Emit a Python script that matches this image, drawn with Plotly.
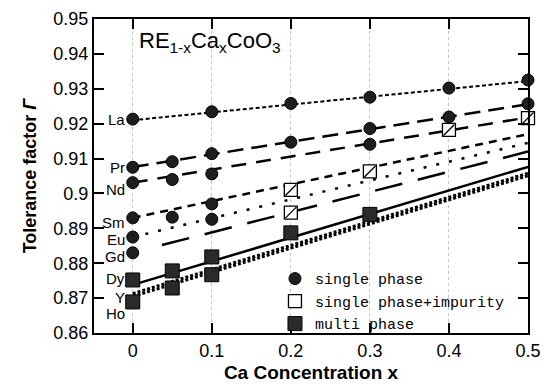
import plotly.graph_objects as go

# ---------------- data ----------------
x_ticks = [0, 0.1, 0.2, 0.3, 0.4, 0.5]
y_ticks = [0.86, 0.87, 0.88, 0.89, 0.90, 0.91, 0.92, 0.93, 0.94, 0.95]

# calculated tolerance-factor lines
fit_x = [0, 0.5]
la_fit = [0.9210, 0.9322]
pr_fit = [0.9076, 0.9256]
nd_fit = [0.9031, 0.9218]
sm_fit = [0.8930, 0.9170]
eu_fit = [0.8875, 0.9145]
gd_fit_x = [0.037, 0.5]
gd_fit = [0.8852, 0.9120]
dy_fit = [0.8738, 0.9076]
y_fit = [0.8713, 0.9058]
ho_fit = [0.8705, 0.9051]

# single phase points
la_x = [0, 0.1, 0.2, 0.3, 0.4, 0.5]
la_single = [0.9213, 0.9234, 0.9258, 0.9276, 0.9302, 0.9325]
pr_x = [0, 0.05, 0.1, 0.2, 0.3, 0.4, 0.5]
pr_single = [0.9075, 0.9091, 0.9114, 0.9147, 0.9186, 0.9219, 0.9257]
nd_x = [0, 0.05, 0.1, 0.3]
nd_single = [0.9031, 0.9040, 0.9056, 0.9141]
sm_x = [0, 0.05, 0.1]
sm_single = [0.8930, 0.8932, 0.8970]
eu_x = [0, 0.1]
eu_single = [0.8875, 0.8926]
gd_x = [0]
gd_single = [0.8830]

# single phase + impurity points
nd_imp_x = [0.4, 0.5]
nd_imp = [0.9182, 0.9216]
sm_imp_x = [0.2, 0.3]
sm_imp = [0.9010, 0.9063]
gd_imp_x = [0.2]
gd_imp = [0.8945]

# multi phase points
dy_x = [0, 0.05, 0.1, 0.2, 0.3]
dy_multi = [0.8752, 0.8778, 0.8818, 0.8887, 0.8940]
yho_x = [0, 0.05, 0.1]
yho_multi = [0.8689, 0.8729, 0.8767]

# element labels at x = 0
re_names = ["La", "Pr", "Nd", "Sm", "Eu", "Gd", "Dy", "Y", "Ho"]
re_label_y = [0.9213, 0.9073, 0.9010, 0.8918, 0.8867, 0.8818, 0.8755, 0.8703, 0.8655]

legend_names = ["single phase", "single phase+impurity", "multi phase"]

# ---------------- figure ----------------
fig = go.Figure()

line_specs = [
    (fit_x, la_fit, "4px,2.5px", 2),
    (fit_x, pr_fit, "16px,8px", 2.5),
    (fit_x, nd_fit, "15px,10px", 2.5),
    (fit_x, sm_fit, "8px,6px", 2.5),
    (fit_x, eu_fit, "3px,10px", 2.5),
    (gd_fit_x, gd_fit, "28px,16px", 2.5),
    (fit_x, dy_fit, "solid", 2.5),
    (fit_x, y_fit, "3px,2px", 3),
    (fit_x, ho_fit, "3px,2px", 3),
]
for xs, ys, dash, w in line_specs:
    fig.add_trace(go.Scatter(x=xs, y=ys, mode="lines",
                             line=dict(color="black", width=w, dash=dash),
                             showlegend=False, hoverinfo="skip"))

single_x = la_x + pr_x + nd_x + sm_x + eu_x + gd_x
single_y = la_single + pr_single + nd_single + sm_single + eu_single + gd_single
imp_x = nd_imp_x + sm_imp_x + gd_imp_x
imp_y = nd_imp + sm_imp + gd_imp
multi_x = dy_x + yho_x
multi_y = dy_multi + yho_multi

fig.add_trace(go.Scatter(x=single_x, y=single_y, mode="markers", name=legend_names[0],
                         marker=dict(symbol="circle", size=12, color="#1e1e1e",
                                     line=dict(color="black", width=1)),
                         cliponaxis=False))
fig.add_trace(go.Scatter(x=imp_x, y=imp_y, mode="markers", name=legend_names[1],
                         marker=dict(symbol="square", size=13, color="white",
                                     line=dict(color="black", width=1.3)),
                         cliponaxis=False))
fig.add_trace(go.Scatter(x=imp_x, y=imp_y, mode="markers", showlegend=False,
                         marker=dict(symbol="line-ne", size=11, color="black",
                                     line=dict(color="black", width=1.3)),
                         cliponaxis=False, hoverinfo="skip"))
fig.add_trace(go.Scatter(x=multi_x, y=multi_y, mode="markers", name=legend_names[2],
                         marker=dict(symbol="square", size=14, color="#2a2a2a",
                                     line=dict(color="black", width=1)),
                         cliponaxis=False))

for name, yv in zip(re_names, re_label_y):
    fig.add_annotation(x=0, y=yv, xref="x", yref="y", text=name, showarrow=False,
                       xanchor="right", xshift=-6,
                       font=dict(family="Liberation Sans", size=15, color="black"))

fig.add_annotation(x=0.099, y=0.927, xref="paper", yref="paper",
                   text="RE<sub>1-x</sub>Ca<sub>x</sub>CoO<sub>3</sub>",
                   showarrow=False, xanchor="left", yanchor="middle",
                   font=dict(family="Liberation Sans", size=22, color="black"))

axis_font = dict(family="Liberation Sans", size=18, color="black")
fig.update_xaxes(range=[-0.049, 0.5], tickvals=x_ticks, ticktext=[str(v) for v in x_ticks],
                 ticks="inside", ticklen=10, tickwidth=1.5, tickcolor="black",
                 showline=True, linewidth=2, linecolor="black", mirror="ticks",
                 showgrid=True, gridcolor="#c4c4c4", griddash="dot", gridwidth=1,
                 zeroline=False, tickfont=axis_font,
                 title=dict(text="<b>Ca Concentration x</b>", standoff=6,
                            font=dict(family="Liberation Sans", size=19, color="black")))
fig.update_yaxes(range=[0.86, 0.95], tickvals=y_ticks,
                 ticktext=[f"{v:.2f}".rstrip("0") for v in y_ticks],
                 ticks="inside", ticklen=10, tickwidth=1.5, tickcolor="black",
                 showline=True, linewidth=2, linecolor="black", mirror="ticks",
                 showgrid=False, zeroline=False, tickfont=axis_font,
                 title=dict(text="<b>Tolerance factor <i>Γ</i></b>", standoff=12,
                            font=dict(family="Liberation Sans", size=18, color="black")))

fig.update_layout(
    width=555, height=388,
    margin=dict(l=94, r=27, t=19, b=55, autoexpand=False),
    plot_bgcolor="white", paper_bgcolor="white",
    legend=dict(x=0.417, y=0.225, xanchor="left", yanchor="top",
                bgcolor="rgba(0,0,0,0)", tracegroupgap=0, itemwidth=30,
                font=dict(family="Liberation Mono", size=15, color="black")),
)

fig.write_html("out.html")
